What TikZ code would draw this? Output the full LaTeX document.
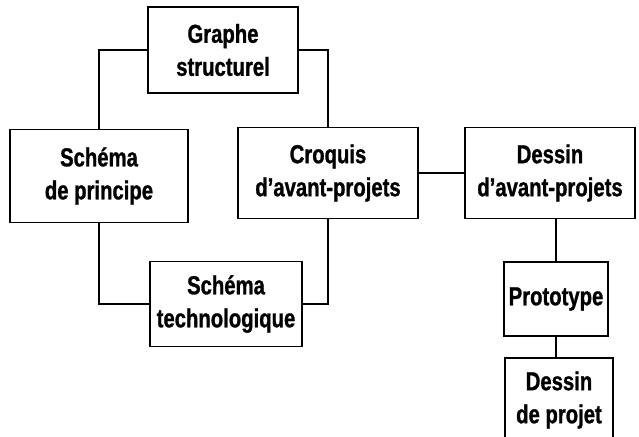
\documentclass[tikz,border=0pt]{standalone}
\usepackage{fontspec}
\setmainfont{Liberation Sans}[FakeStretch=0.78, FakeBold=1.0]
\usepackage{tikz}
\usetikzlibrary{positioning, calc}
\tikzset{
  block/.style={draw, line width=1.4pt, align=center, inner sep=0pt,
                font=\bfseries\fontsize{26}{33}\selectfont},
  link/.style={line width=1.2pt},
}

\begin{document}
\begin{tikzpicture}[x=1pt, y=-1pt]
  \useasboundingbox (0,0) rectangle (639,436);

  % --- Left loop ---
  \node[block, minimum width=150pt, minimum height=86pt] (graphe) at (223,50)
    {Graphe\\structurel};
  \node[block, minimum width=178pt, minimum height=93pt] (principe) at (99,176)
    {Schéma\\de principe};
  \node[block, minimum width=180pt, minimum height=91pt] (croquis) at (328,173)
    {Croquis\\d'avant-projets};
  \node[block, minimum width=152pt, minimum height=85pt] (techno) at (226,304)
    {Schéma\\technologique};

  % --- Right chain ---
  \node[block, minimum width=170pt, minimum height=91pt] (dessinav) at (550,173)
    {Dessin\\d'avant-projets};
  \node[block, minimum width=104pt, minimum height=74pt] (proto) at (556,299)
    {Prototype};
  \node[block, minimum width=108pt, minimum height=84pt] (dessinpr) at (559,400)
    {Dessin\\de projet};

  % --- Links ---
  \draw[link] (graphe.west) -| (principe.north);
  \draw[link] (graphe.east) -| (croquis.north);
  \draw[link] (principe.south) |- (techno.west);
  \draw[link] (croquis.south) |- (techno.east);
  \draw[link] (croquis.east) -- (croquis.east -| dessinav.west);
  \draw[link] (proto.north) -- (proto.north |- dessinav.south);
  \draw[link] (proto.south) -- (proto.south |- dessinpr.north);

\end{tikzpicture}
\end{document}
